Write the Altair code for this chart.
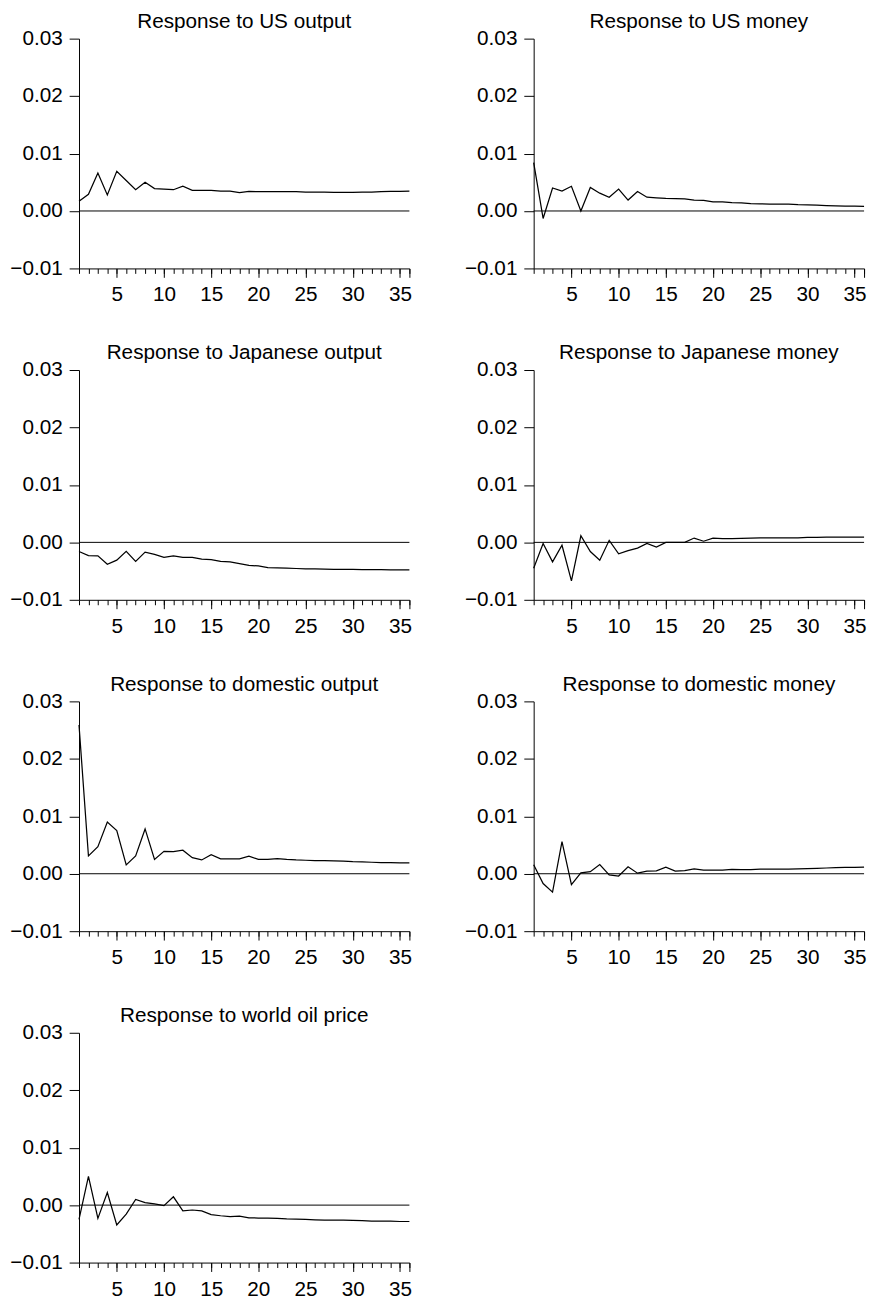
import altair as alt
import pandas as pd

periods = list(range(1, 37))

titles = [
    "Response to US output",
    "Response to US money",
    "Response to Japanese output",
    "Response to Japanese money",
    "Response to domestic output",
    "Response to domestic money",
    "Response to world oil price",
]

us_output = [0.0017, 0.0029, 0.0066, 0.0028, 0.0069, 0.0053, 0.0037, 0.0050, 0.0039, 0.0038,
             0.0037, 0.0043, 0.0036, 0.0036, 0.0036, 0.00345, 0.00345, 0.0032, 0.0034, 0.00335,
             0.00335, 0.00335, 0.00335, 0.00335, 0.0033, 0.0033, 0.0033, 0.00325, 0.00325, 0.00325,
             0.0033, 0.0033, 0.00335, 0.0034, 0.0034, 0.00345]

us_money = [0.0084, -0.0013, 0.0040, 0.00345, 0.0043, 0.0000, 0.0041, 0.0031, 0.0024, 0.0038,
            0.0019, 0.0034, 0.0024, 0.0023, 0.0022, 0.00215, 0.0021, 0.0019, 0.00185, 0.0016,
            0.0016, 0.00145, 0.0014, 0.0013, 0.00125, 0.0012, 0.0012, 0.0012, 0.0011, 0.00105,
            0.0010, 0.00095, 0.0009, 0.00085, 0.00085, 0.0008]

jp_output = [-0.0016, -0.0023, -0.00235, -0.0038, -0.0031, -0.00155, -0.0033, -0.0017, -0.0021, -0.0026,
             -0.00235, -0.0026, -0.0026, -0.0029, -0.0030, -0.0033, -0.0034, -0.0037, -0.0040, -0.0041,
             -0.0044, -0.00445, -0.0045, -0.00455, -0.0046, -0.0046, -0.00465, -0.0047, -0.0047, -0.0047,
             -0.00475, -0.00475, -0.00475, -0.0048, -0.0048, -0.0048]

jp_money = [-0.0045, -0.0002, -0.0034, -0.0005, -0.0067, 0.00115, -0.0016, -0.0031, 0.00035, -0.0020,
            -0.00145, -0.0010, -0.0002, -0.0008, 0.0000, 0.0000, 0.0000, 0.00075, 0.0002, 0.00075,
            0.00065, 0.00065, 0.0007, 0.00075, 0.0008, 0.0008, 0.0008, 0.0008, 0.0008, 0.00085,
            0.00085, 0.0009, 0.0009, 0.0009, 0.0009, 0.0009]

dom_output = [0.0259, 0.0031, 0.0047, 0.0090, 0.0075, 0.00155, 0.0031, 0.0078, 0.0025, 0.0039,
              0.00385, 0.0041, 0.0028, 0.0024, 0.0033, 0.0026, 0.0026, 0.0026, 0.00305, 0.0025,
              0.0025, 0.00265, 0.0025, 0.0024, 0.00235, 0.0023, 0.0023, 0.00225, 0.0022, 0.0021,
              0.00205, 0.0020, 0.00195, 0.00195, 0.0019, 0.0019]

dom_money = [0.00155, -0.0017, -0.0032, 0.0056, -0.0019, 0.00015, 0.00035, 0.0016, -0.0002, -0.0004,
             0.0012, 0.0001, 0.00045, 0.0005, 0.00115, 0.00045, 0.00055, 0.00085, 0.00065, 0.00065,
             0.00065, 0.00075, 0.0007, 0.0007, 0.0008, 0.0008, 0.0008, 0.0008, 0.00085, 0.0009,
             0.00095, 0.0010, 0.00105, 0.0011, 0.0011, 0.00115]

oil_price = [-0.0025, 0.0050, -0.0023, 0.0022, -0.00345, -0.00155, 0.0010, 0.00045, 0.0002, -0.0001,
             0.00145, -0.0010, -0.00085, -0.0010, -0.00165, -0.00185, -0.0020, -0.0019, -0.0022, -0.00225,
             -0.00225, -0.0023, -0.0024, -0.00245, -0.0025, -0.00255, -0.0026, -0.0026, -0.0026, -0.00265,
             -0.0027, -0.0028, -0.0028, -0.0028, -0.00285, -0.00285]

series = [us_output, us_money, jp_output, jp_money, dom_output, dom_money, oil_price]

major_ticks = [5, 10, 15, 20, 25, 30, 35, 36]
y_ticks = [-0.01, 0.0, 0.01, 0.02, 0.03]
x_domain = [1, 36]
y_domain = [-0.01, 0.03]

FONT = "Liberation Sans"


def y_axis():
    return alt.Axis(values=y_ticks, format=".2f", tickSize=10, labelPadding=7, title=None)


def panel(title, values):
    df = pd.DataFrame({"t": periods, "v": values})
    base = alt.Chart(df)
    yscale = alt.Scale(domain=y_domain, nice=False, zero=False)
    line = base.mark_line(color="black", strokeWidth=1.25).encode(
        x=alt.X(
            "t:Q",
            scale=alt.Scale(domain=x_domain, nice=False, zero=False),
            axis=alt.Axis(
                orient="bottom",
                values=major_ticks,
                tickSize=9,
                labelPadding=7,
                labelExpr="datum.value == 36 ? '' : datum.label",
                title=None,
            ),
        ),
        y=alt.Y("v:Q", scale=yscale, axis=y_axis()),
    )
    zero = base.mark_rule(color="black", strokeWidth=1).encode(
        x=alt.X(
            "t:Q",
            aggregate="min",
            axis=alt.Axis(
                orient="bottom",
                values=periods,
                tickSize=5,
                labels=False,
                domain=False,
                title=None,
            ),
        ),
        x2=alt.X2(field="t", aggregate="max"),
        y=alt.YDatum(0, scale=yscale, axis=y_axis()),
    )
    return (
        alt.layer(line, zero, title=alt.Title(title))
        .resolve_axis(x="independent")
        .properties(width=335, height=233)
    )


panels = [panel(t, s) for t, s in zip(titles, series)]

chart = (
    alt.concat(*panels, columns=2, spacing={"row": 38, "column": 52})
    .properties(padding={"left": 1, "top": -6, "right": 2, "bottom": 0})
    .configure_view(stroke=None)
    .configure_axis(
        domainColor="black",
        tickColor="black",
        labelColor="black",
        labelFont=FONT,
        labelFontSize=21,
        domainWidth=1,
        tickWidth=1,
        grid=False,
    )
    .configure_title(
        font=FONT,
        fontSize=21,
        fontWeight="normal",
        color="black",
        offset=-4,
        anchor="middle",
    )
)

chart.save("out.html", embed_options={"renderer": "svg", "actions": False})
